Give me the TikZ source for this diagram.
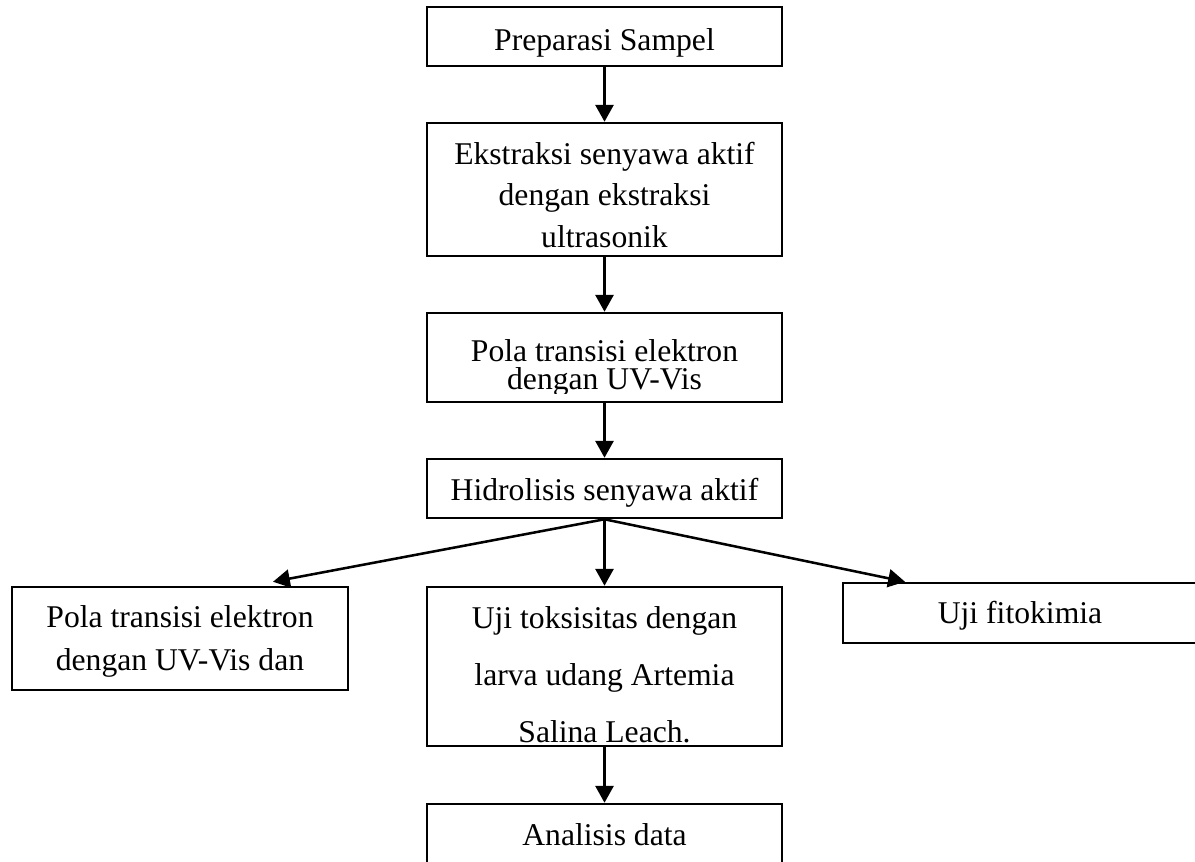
\documentclass[tikz,border=0pt]{standalone}
\usepackage{fontspec}
\setmainfont{Liberation Serif}
\usetikzlibrary{arrows.meta}

\tikzset{
	box/.style={draw, line width=1.8pt, inner sep=0pt, minimum width=8.875cm},
	words/.style={anchor=base, align=center, inner sep=0pt, font=\fontsize{22.5}{#1}\selectfont},
	words/.default=27pt,
	flow/.style={line width=1.8pt, -{Triangle[length=0.42cm, width=0.45cm]}},
}

\begin{document}
\begin{tikzpicture}[x=0.025cm, y=-0.025cm]	%1 unit = 1 px of the page, y runs down
	\useasboundingbox (0,0) rectangle (1195,861);

	%main column
	\node[box, minimum height=1.475cm] (prep) at (604.5,36.5) {};
	\node[words] (prep-t) at (604.5,50) {Preparasi Sampel};

	\node[box, minimum height=3.325cm] (ekstrak) at (604.5,189.5) {};
	\begin{scope}
	\clip (ekstrak.north west) rectangle (782,248);	%last line is cut by the box
	\node[words=29.2pt] (ekstrak-t) at (604.5,247) {Ekstraksi senyawa aktif\\dengan ekstraksi\\ultrasonik};
	\end{scope}

	\node[box, minimum height=2.225cm] (uvvis) at (604.5,357.5) {};
	\begin{scope}
	\clip (uvvis.north west) rectangle (782,393);
	\node[words=19.5pt] (uvvis-t) at (604.5,389) {Pola transisi elektron\\dengan UV-Vis};
	\end{scope}

	\node[box, minimum height=1.475cm] (hidro) at (604.5,488.5) {};
	\node[words] (hidro-t) at (604.5,500) {Hidrolisis senyawa aktif};

	%three branches
	\node[box, minimum width=8.4cm, minimum height=2.575cm] (spektra) at (180,638.5) {};
	\node[words=29.9pt] (spektra-t) at (180,670) {Pola transisi elektron\\dengan UV-Vis dan};

	\node[box, minimum height=3.975cm] (toks) at (604.5,666.5) {};
	\begin{scope}
	\clip (toks.north west) rectangle (782,743);
	\node[words=40.5pt] (toks-t) at (604.5,742) {Uji toksisitas dengan\\larva udang Artemia\\Salina Leach.};
	\end{scope}

	\node[box, minimum width=8.85cm, minimum height=1.5cm] (fito) at (1020,613) {};
	\node[words] (fito-t) at (1020,623) {Uji fitokimia};

	\node[box, minimum height=2cm] (analisis) at (604.5,844) {};	%runs off the page
	\node[words] (analisis-t) at (604.5,845) {Analisis data};

	%arrows
	\draw[flow] (prep) -- (ekstrak);
	\draw[flow] (ekstrak) -- (uvvis);
	\draw[flow] (uvvis) -- (hidro);
	\draw[flow] (hidro.south) -- (toks.north);
	\draw[flow] (hidro.south) -- ([xshift=2.325cm, yshift=0.1cm]spektra.north);
	\draw[flow] (hidro.south) -- ([xshift=-2.875cm]fito.north);
	\draw[flow] (toks) -- (analisis);
\end{tikzpicture}
\end{document}
